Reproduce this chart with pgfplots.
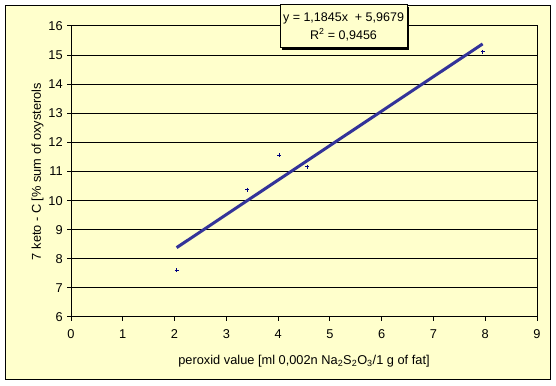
\documentclass[border=0pt]{standalone}
\usepackage{pgfplots}
\pgfplotsset{compat=1.18}
\usepackage{fontspec}
\setmainfont{Liberation Sans}
\usetikzlibrary{shadows}
\definecolor{bgy}{HTML}{FFFFCC}
\definecolor{trend}{HTML}{333399}
\definecolor{pts}{HTML}{000080}
\begin{document}
\fontsize{12.5pt}{14pt}\selectfont
\begin{tikzpicture}
\useasboundingbox (0pt,0pt) rectangle (556pt,385pt);
\fill[white] (0pt,0pt) rectangle (556pt,385pt);
\draw[fill=bgy, line width=1pt] (5.5pt,5.5pt) rectangle (550pt,379.5pt);
\begin{axis}[
  at={(71pt,68pt)}, anchor=south west,
  scale only axis, width=466pt, height=291pt,
  xmin=0, xmax=9, ymin=6, ymax=16,
  xtick={0,1,...,9}, ytick={6,7,...,16},
  ymajorgrids,
  grid style={black, line width=1pt},
  axis line style={black, line width=1pt},
  tick style={black, line width=1pt},
  tick align=outside, major tick length=4pt,
  xtick pos=bottom, ytick pos=left,
  tick label style={font=\fontsize{12.8pt}{14pt}\selectfont},
  /pgf/number format/assume math mode=true,
  xticklabel style={yshift=-4pt},
  every axis x label/.style={at={(rel axis cs:0.5,-0.152)}, anchor=center},
  every axis y label/.style={at={(rel axis cs:-0.072,0.5)}, rotate=90, anchor=center},
  xlabel={peroxid value [ml 0,002n Na\textsubscript{2}S\textsubscript{2}O\textsubscript{3}/1 g of fat]},
  ylabel={7 keto - C [\% sum of oxysterols},
  label style={font=\fontsize{12.8pt}{14pt}\selectfont},
  clip=false,
]
\addplot[only marks, mark=+, mark size=2pt, color=pts, mark options={line width=1pt}]
  coordinates {(2.04,7.61) (3.40,10.38) (4.02,11.55) (4.56,11.17) (7.95,15.11)};
\addplot[trend, line width=3pt] coordinates {(2.04,8.384) (7.95,15.385)};
\end{axis}
\node[draw, fill=bgy, line width=1pt, minimum width=127pt, minimum height=43pt,
      align=center, inner sep=0pt, font=\fontsize{12.5pt}{18pt}\selectfont,
      drop shadow={shadow xshift=2pt, shadow yshift=-2pt, fill=black, opacity=1}]
  at (343.5pt,358.5pt) {y = 1,1845x \ + 5,9679\\R\textsuperscript{2} = 0,9456};
\end{tikzpicture}
\end{document}
